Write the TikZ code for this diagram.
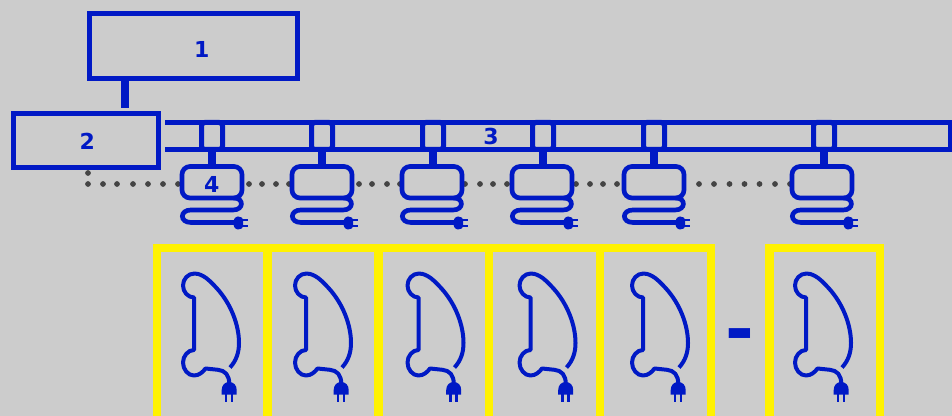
\documentclass[tikz,border=0pt]{standalone}
\usepackage{fontspec}
\setmainfont{DejaVu Sans}
\definecolor{bluex}{HTML}{0019C5}
\definecolor{bgx}{HTML}{CCCCCC}
\definecolor{dotx}{HTML}{444444}
\tikzset{
  bluebox/.style={draw=bluex,line width=3.75pt,rectangle,outer sep=0pt,inner sep=0pt},
  socketbox/.style={draw=bluex,line width=3.75pt,rectangle,rounded corners=2.5pt,outer sep=0pt,inner sep=0pt,minimum width=15.75pt,minimum height=20.25pt},
  devicebox/.style={draw=bluex,line width=3.5pt,rectangle,rounded corners=6pt,outer sep=0pt,inner sep=0pt,minimum width=45pt,minimum height=23.6pt},
  yellowbox/.style={draw=yellow,line width=6.2pt,rectangle,outer sep=0pt,inner sep=0pt,minimum width=83pt,minimum height=130pt,anchor=north west},
  stem/.style={draw=bluex,line width=6.2pt},
  barline/.style={draw=bluex,line width=3.75pt},
  cord/.style={draw=bluex,line width=3.5pt,line cap=round},
  thincord/.style={draw=bluex,line width=3pt},
  prong/.style={draw=bluex,line width=1.9pt},
  label/.style={text=bluex,font=\bfseries\fontsize{16.5}{16.5}\selectfont,inner sep=0pt},
  dotmark/.style={circle,fill=dotx,inner sep=0pt,minimum size=4.3pt}
}
\begin{document}
\begin{tikzpicture}[x=0.75pt,y=-0.75pt]
\useasboundingbox (0,0) rectangle (952,416);
\clip (0,0) rectangle (952,416);
\fill[bgx] (0,0) rectangle (952,416);

% dots
\foreach \dx/\dy in {88/173,88/184,103/184,117/184,133/184,148/184,163/184,178/184,
  249/184,262/184,276/184,289/184,
  359/184,372/184,387/184,400/184,
  465/184,480/184,493/184,507/184,
  576/184,590/184,603/184,617/184,
  699/184,714/184,729.5/184,744.5/184,759.5/184,775/184,790/184}
  \node[dotmark] at (\dx,\dy) {};

% boxes 1, 2
\node[bluebox,minimum width=156pt,minimum height=48.75pt] (n1) at (193.25,46.5) {};
\node[bluebox,minimum width=109pt,minimum height=40.5pt] (n2) at (85.75,141) {};
\coordinate (c12) at (125,108);
\draw[stem] (n1.south -| c12) -- (c12);

% bar 3
\coordinate (barTL) at (165,122.5);
\coordinate (barTR) at (950.5,122.5);
\coordinate (barBR) at (950.5,149.5);
\coordinate (barBL) at (165,149.5);
\draw[barline,miter limit=10] (barTL) -- (barTR) -- (barBR) -- (barBL);

% sockets, stems, devices and cords
\foreach \i/\sx/\dl in {a/212/180,b/322/290,c/433/400,d/543/510,e/654/622,f/824/790}{
  \node[socketbox] (s\i) at (\sx,136) {};
  \node[devicebox] (d\i) at ({\dl+32},182.25) {};
  \draw[stem] (s\i.south) -- (s\i.south |- d\i.north);
  \begin{scope}[shift={(\dl-180,0)}]
    \draw[cord] (234,198) .. controls (244,198) and (244,210) .. (233,210)
      -- (191,210) .. controls (179.5,210) and (179.5,222.5) .. (191,222.5) -- (238,222.5);
    \fill[bluex] (238,216.5) .. controls (241,216.5) and (243,218) .. (243,219.5)
      -- (243,226.5) .. controls (243,228) and (241,229.5) .. (238,229.5)
      .. controls (235,229.5) and (233,226) .. (233,223) .. controls (233,220) and (235,216.5) .. (238,216.5) -- cycle;
    \draw[prong] (242,220) -- (248,220);
    \draw[prong] (242,226) -- (248,226);
  \end{scope}
}

% yellow boxes
\foreach \i/\yl in {1/157,2/267.5,3/378.5,4/489,5/600,6/769.5}
  \node[yellowbox] (y\i) at (\yl,248) {};

% hanging cords
\foreach \k/\off in {1/0,2/112,3/224.5,4/336.5,5/449,6/612}{
  \begin{scope}[shift={(\off,0)}]
    \draw[thincord,line join=round] (230,367.5) .. controls (236,361) and (239,353) .. (239,343)
      .. controls (239,325) and (231,304) .. (217,288.5)
      .. controls (212,283) and (207,278) .. (203,276)
      .. controls (199,274) and (197,273.5) .. (194.5,273.5)
      .. controls (188,273.5) and (183,279) .. (183,285.5)
      .. controls (183,292) and (188,297.5) .. (194,297.5)
      -- (194,350)
      .. controls (188,350) and (183,356) .. (183,362.5)
      .. controls (183,369.5) and (188,375.5) .. (194,375.5)
      .. controls (199,375.5) and (203,372) .. (205.5,368.5)
      -- (218,369.8)
      .. controls (225,370.5) and (229.3,375) .. (229.3,384);
    \fill[bluex] (221.7,394.5) -- (221.7,390) .. controls (221.7,385) and (225,382) .. (229.2,382)
      .. controls (233.4,382) and (236.7,385) .. (236.7,390) -- (236.7,394.5) -- cycle;
    \draw[prong] (226,394) -- (226,401.6);
    \draw[prong] (232,394) -- (232,401.6);
  \end{scope}
}

% labels
\node[label] (t1) at (201.7,49) {1};
\node[label] (t2) at (87.3,141.5) {2};
\node[label] (t3) at (491,136.5) {3};
\node[label] (t4) at (211.7,184.5) {4};
\node[text=bluex,font=\bfseries\fontsize{52}{52}\selectfont,inner sep=0pt] (tm) at (740,341.5) {-};
\end{tikzpicture}
\end{document}
